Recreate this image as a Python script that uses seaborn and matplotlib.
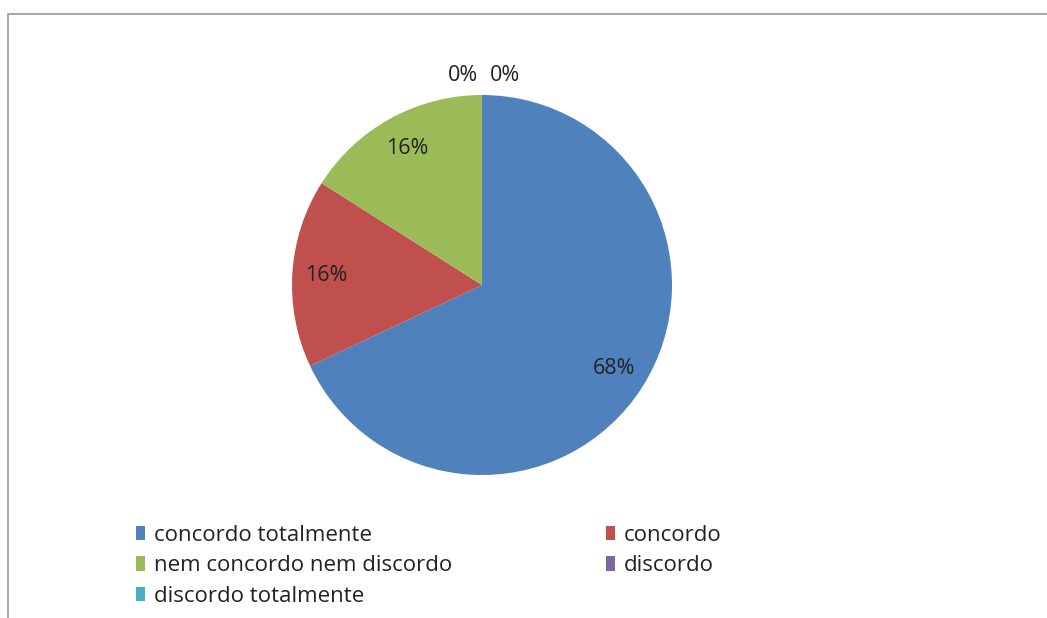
import numpy as np
import matplotlib
matplotlib.use("Agg")
import matplotlib.pyplot as plt
from matplotlib.patches import Patch, Rectangle
import seaborn as sns

categories = ["concordo totalmente", "concordo", "nem concordo nem discordo",
              "discordo", "discordo totalmente"]
values = [68, 16, 16, 0, 0]
colors = ["#4F81BD", "#C0504D", "#9BBB59", "#8064A2", "#4BACC6"]

sns.set_theme(style="white")
plt.rcParams['font.family'] = ['Open Sans', 'DejaVu Sans']

W, H = 1047, 618
fig = plt.figure(figsize=(W / 100, H / 100), dpi=100)
fig.patch.set_facecolor("white")

# chart frame (clipped on right and bottom, as in reference)
fig.patches.append(Rectangle((8 / W, -0.05), 1.1, 1 - 14 / H + 0.05,
                             transform=fig.transFigure, fill=False,
                             edgecolor="#9a9a9a", linewidth=1.2))

cx, cy, R = 482, 285, 190
ax = fig.add_axes([(cx - R) / W, 1 - (cy + R) / H, 2 * R / W, 2 * R / H])

wedges, texts, autotexts = ax.pie(
    values, colors=colors, startangle=90, counterclock=False,
    autopct=lambda p: f"{p:.0f}%", pctdistance=0.82,
    wedgeprops=dict(linewidth=0, edgecolor="none"),
    textprops=dict(fontsize=15.5, color="#222222"))
ax.set_xlim(-1, 1)
ax.set_ylim(-1, 1)
ax.set_aspect("equal")

# zero-value labels sit just outside the top of the pie
zero_idx = [i for i, v in enumerate(values) if v == 0]
offsets = [-0.10, 0.12]
for k, i in enumerate(zero_idx):
    theta = np.deg2rad((wedges[i].theta1 + wedges[i].theta2) / 2)
    autotexts[i].set_position((np.cos(theta) * 1.1 + offsets[k % 2],
                               np.sin(theta) * 1.1))

handles = [Patch(facecolor=c, edgecolor="none") for c in colors]
order = [0, 2, 4, 1, 3]
fig.legend([handles[i] for i in order], [categories[i] for i in order],
           loc="upper left", bbox_to_anchor=(116 / W, 1 - 505 / H),
           ncol=2, frameon=False, fontsize=16, handlelength=0.42,
           handleheight=0.6, handletextpad=0.4, labelspacing=0.42,
           columnspacing=6.9, labelcolor="#222222")

fig.savefig("out.png", dpi=100)
